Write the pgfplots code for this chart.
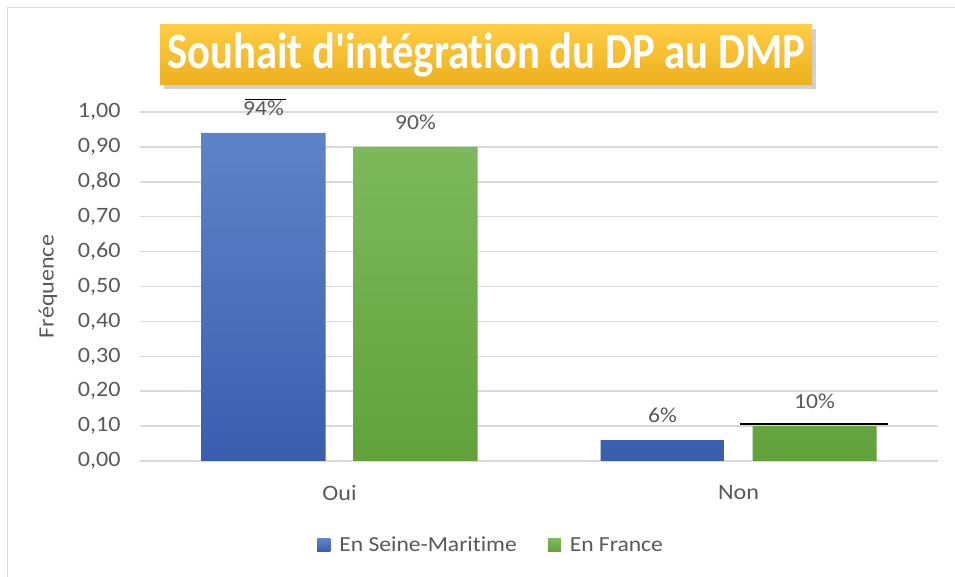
\documentclass[border=0pt]{standalone}
\usepackage{pgfplots}
\pgfplotsset{compat=1.18}
\usepackage{fontspec}
\setmainfont{Carlito}[Ligatures={TeX,NoCommon}, FakeStretch=1.1]
\newfontfamily\titlefont{Carlito}[Ligatures=NoCommon, FakeStretch=0.84]
\definecolor{txt}{HTML}{595959}
\definecolor{gridc}{HTML}{D9D9D9}
\definecolor{bluetop}{HTML}{5F83C8}
\definecolor{bluebot}{HTML}{3A5EAE}
\definecolor{greentop}{HTML}{7DB95C}
\definecolor{greenbot}{HTML}{61A23B}
\definecolor{titletop}{HTML}{FFCC44}
\definecolor{titlebot}{HTML}{EDB01E}
\begin{document}
\begin{tikzpicture}[x=1bp,y=1bp]
\useasboundingbox (0,0) rectangle (955,577);
\fill[white] (0,0) rectangle (955,577);
\draw[gridc, line width=1.5bp] (7.5,0) -- (7.5,569.5) -- (955,569.5);
% title box
\fill[black!30, opacity=0.6] (164,488) rectangle (816,548);
\shade[top color=titletop, bottom color=titlebot] (160,492) rectangle (812,552);
\node[text=white, font=\titlefont\bfseries\fontsize{51}{56}\selectfont] at (486,522) {Souhait d'intégration du DP au DMP};
\begin{axis}[
  at={(140bp,116bp)}, anchor=south west,
  width=798bp, height=349bp, scale only axis,
  ybar=28bp, bar width=124bp,
  xmin=-0.5, xmax=1.5, ymin=0, ymax=1,
  xtick={0,1}, xticklabels={Oui,Non},
  ytick={0,0.1,...,1.0},
  yticklabel={\pgfmathprintnumber[fixed,fixed zerofill,precision=2,use comma]{\tick}},
  /pgf/number format/assume math mode=true,
  axis line style={draw=none},
  major tick length=0pt,
  ymajorgrids, xmajorgrids=false, grid style={gridc, line width=1.5bp},
  tick label style={text=txt, font=\fontsize{22}{26}\selectfont},
  yticklabel style={xshift=-16bp},
  xticklabel style={yshift=-21bp},
  ylabel={Fréquence},
  every axis y label/.style={at={(rel axis cs:0,0.5)}, xshift=-92bp, rotate=90, anchor=center, text=txt, font=\fontsize{22}{26}\selectfont},
  nodes near coords, point meta=explicit symbolic,
  every node near coord/.append style={text=txt, font=\fontsize{21.5}{25}\selectfont, yshift=14bp},
  clip=false,
  legend style={at={(0.44,-0.241)}, anchor=center, draw=none, fill=none,
    font=\fontsize{21.5}{25}\selectfont, text=txt, column sep=0bp,
    /tikz/every even column/.append style={column sep=29bp}},
  legend columns=2,
  legend image code/.code={\fill[#1] (0bp,-6.5bp) rectangle (13bp,6.5bp); \path (20bp,0bp);},
]
\addplot[draw=none, top color=bluetop, bottom color=bluebot] coordinates {(0,0.94) [94\%] (1,0.06) [6\%]};
\addplot[draw=none, top color=greentop, bottom color=greenbot] coordinates {(0,0.90) [90\%] (1,0.10) [10\%]};
\legend{En Seine-Maritime, En France}
\draw[black, line width=1.5bp] (axis cs:-0.237,1.036) -- (axis cs:-0.134,1.036);
\draw[black, line width=2bp] (axis cs:1.004,0.106) -- (axis cs:1.375,0.106);
\end{axis}
\end{tikzpicture}
\end{document}
